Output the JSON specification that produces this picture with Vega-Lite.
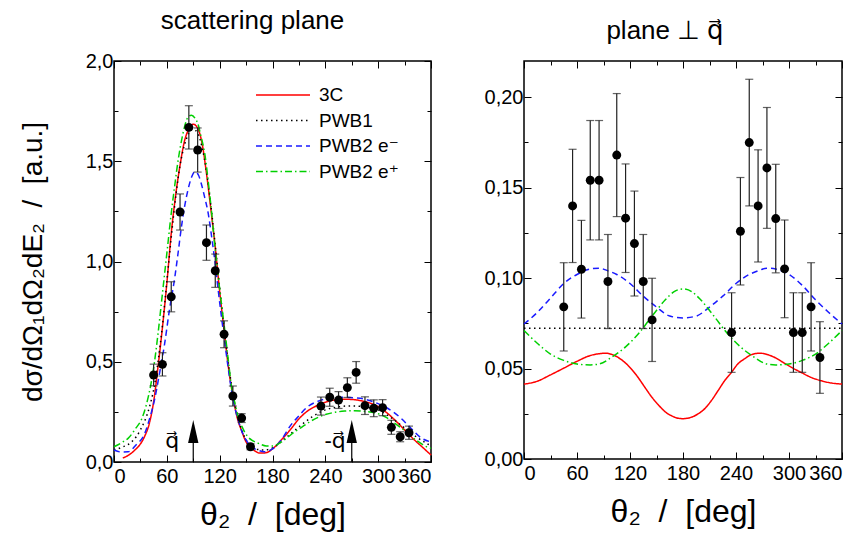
{
  "$schema": "https://vega.github.io/schema/vega-lite/v6.json",
  "background": "white",
  "padding": {"left": 18, "top": 7, "right": 5, "bottom": 5},
  "bounds": "flush",
  "spacing": 93,
  "config": {
    "font": "Liberation Sans, DejaVu Sans",
    "view": {"stroke": "black", "strokeWidth": 1.5},
    "axis": {
      "domain": false,
      "grid": false,
      "labelFont": "Liberation Sans, DejaVu Sans",
      "labelFontSize": 20,
      "labelColor": "black",
      "titleFont": "Liberation Sans, DejaVu Sans",
      "titleFontSize": 30,
      "titleFontWeight": "normal",
      "titleColor": "black",
      "tickColor": "black",
      "tickWidth": 1
    }
  },
  "datasets": {
    "curvesL": [
      {"model":"3C","theta":10,"v":0.02},{"model":"3C","theta":15,"v":0.03},{"model":"3C","theta":20,"v":0.045},{"model":"3C","theta":25,"v":0.065},{"model":"3C","theta":30,"v":0.09},{"model":"3C","theta":35,"v":0.13},{"model":"3C","theta":40,"v":0.19},{"model":"3C","theta":45,"v":0.3},{"model":"3C","theta":50,"v":0.475},{"model":"3C","theta":55,"v":0.67},{"model":"3C","theta":60,"v":0.89},{"model":"3C","theta":65,"v":1.14},{"model":"3C","theta":70,"v":1.33},{"model":"3C","theta":75,"v":1.48},{"model":"3C","theta":80,"v":1.6},{"model":"3C","theta":85,"v":1.66},{"model":"3C","theta":90,"v":1.685},{"model":"3C","theta":95,"v":1.665},{"model":"3C","theta":100,"v":1.59},{"model":"3C","theta":105,"v":1.44},{"model":"3C","theta":110,"v":1.26},{"model":"3C","theta":115,"v":1.07},{"model":"3C","theta":120,"v":0.85},{"model":"3C","theta":125,"v":0.66},{"model":"3C","theta":130,"v":0.47},{"model":"3C","theta":135,"v":0.33},{"model":"3C","theta":140,"v":0.22},{"model":"3C","theta":145,"v":0.155},{"model":"3C","theta":150,"v":0.1},{"model":"3C","theta":155,"v":0.075},{"model":"3C","theta":160,"v":0.055},{"model":"3C","theta":165,"v":0.045},{"model":"3C","theta":170,"v":0.045},{"model":"3C","theta":175,"v":0.05},{"model":"3C","theta":180,"v":0.065},{"model":"3C","theta":190,"v":0.11},{"model":"3C","theta":200,"v":0.16},{"model":"3C","theta":210,"v":0.215},{"model":"3C","theta":220,"v":0.255},{"model":"3C","theta":230,"v":0.28},{"model":"3C","theta":240,"v":0.298},{"model":"3C","theta":250,"v":0.309},{"model":"3C","theta":260,"v":0.313},{"model":"3C","theta":270,"v":0.312},{"model":"3C","theta":280,"v":0.306},{"model":"3C","theta":290,"v":0.295},{"model":"3C","theta":300,"v":0.276},{"model":"3C","theta":310,"v":0.245},{"model":"3C","theta":320,"v":0.205},{"model":"3C","theta":330,"v":0.16},{"model":"3C","theta":340,"v":0.115},{"model":"3C","theta":350,"v":0.075},{"model":"3C","theta":360,"v":0.035},
      {"model":"PWB1","theta":0,"v":0.06},{"model":"PWB1","theta":10,"v":0.075},{"model":"PWB1","theta":20,"v":0.1},{"model":"PWB1","theta":30,"v":0.16},{"model":"PWB1","theta":40,"v":0.27},{"model":"PWB1","theta":45,"v":0.36},{"model":"PWB1","theta":50,"v":0.5},{"model":"PWB1","theta":55,"v":0.68},{"model":"PWB1","theta":60,"v":0.9},{"model":"PWB1","theta":65,"v":1.12},{"model":"PWB1","theta":70,"v":1.32},{"model":"PWB1","theta":75,"v":1.48},{"model":"PWB1","theta":80,"v":1.58},{"model":"PWB1","theta":85,"v":1.64},{"model":"PWB1","theta":90,"v":1.66},{"model":"PWB1","theta":95,"v":1.64},{"model":"PWB1","theta":100,"v":1.57},{"model":"PWB1","theta":105,"v":1.45},{"model":"PWB1","theta":110,"v":1.28},{"model":"PWB1","theta":115,"v":1.08},{"model":"PWB1","theta":120,"v":0.87},{"model":"PWB1","theta":125,"v":0.67},{"model":"PWB1","theta":130,"v":0.49},{"model":"PWB1","theta":135,"v":0.34},{"model":"PWB1","theta":140,"v":0.23},{"model":"PWB1","theta":145,"v":0.16},{"model":"PWB1","theta":150,"v":0.11},{"model":"PWB1","theta":155,"v":0.08},{"model":"PWB1","theta":160,"v":0.065},{"model":"PWB1","theta":170,"v":0.06},{"model":"PWB1","theta":180,"v":0.07},{"model":"PWB1","theta":195,"v":0.12},{"model":"PWB1","theta":210,"v":0.175},{"model":"PWB1","theta":225,"v":0.225},{"model":"PWB1","theta":240,"v":0.26},{"model":"PWB1","theta":255,"v":0.275},{"model":"PWB1","theta":270,"v":0.28},{"model":"PWB1","theta":285,"v":0.275},{"model":"PWB1","theta":300,"v":0.26},{"model":"PWB1","theta":315,"v":0.22},{"model":"PWB1","theta":330,"v":0.17},{"model":"PWB1","theta":345,"v":0.12},{"model":"PWB1","theta":360,"v":0.08},
      {"model":"PWB2 e⁻","theta":0,"v":0.06},{"model":"PWB2 e⁻","theta":8,"v":0.05},{"model":"PWB2 e⁻","theta":16,"v":0.051},{"model":"PWB2 e⁻","theta":25,"v":0.085},{"model":"PWB2 e⁻","theta":35,"v":0.143},{"model":"PWB2 e⁻","theta":40,"v":0.21},{"model":"PWB2 e⁻","theta":46,"v":0.31},{"model":"PWB2 e⁻","theta":52,"v":0.45},{"model":"PWB2 e⁻","theta":57.5,"v":0.59},{"model":"PWB2 e⁻","theta":63,"v":0.76},{"model":"PWB2 e⁻","theta":69,"v":0.92},{"model":"PWB2 e⁻","theta":73,"v":1.05},{"model":"PWB2 e⁻","theta":76.5,"v":1.17},{"model":"PWB2 e⁻","theta":80,"v":1.27},{"model":"PWB2 e⁻","theta":84,"v":1.357},{"model":"PWB2 e⁻","theta":88,"v":1.42},{"model":"PWB2 e⁻","theta":92,"v":1.448},{"model":"PWB2 e⁻","theta":96,"v":1.43},{"model":"PWB2 e⁻","theta":99,"v":1.39},{"model":"PWB2 e⁻","theta":103,"v":1.32},{"model":"PWB2 e⁻","theta":107,"v":1.24},{"model":"PWB2 e⁻","theta":111,"v":1.12},{"model":"PWB2 e⁻","theta":114.4,"v":1.007},{"model":"PWB2 e⁻","theta":118,"v":0.87},{"model":"PWB2 e⁻","theta":122,"v":0.725},{"model":"PWB2 e⁻","theta":126,"v":0.59},{"model":"PWB2 e⁻","theta":129.5,"v":0.475},{"model":"PWB2 e⁻","theta":133,"v":0.37},{"model":"PWB2 e⁻","theta":137,"v":0.276},{"model":"PWB2 e⁻","theta":141,"v":0.21},{"model":"PWB2 e⁻","theta":144.6,"v":0.16},{"model":"PWB2 e⁻","theta":150,"v":0.11},{"model":"PWB2 e⁻","theta":156,"v":0.076},{"model":"PWB2 e⁻","theta":163,"v":0.06},{"model":"PWB2 e⁻","theta":171,"v":0.051},{"model":"PWB2 e⁻","theta":180,"v":0.065},{"model":"PWB2 e⁻","theta":190,"v":0.11},{"model":"PWB2 e⁻","theta":201,"v":0.185},{"model":"PWB2 e⁻","theta":210,"v":0.23},{"model":"PWB2 e⁻","theta":220,"v":0.276},{"model":"PWB2 e⁻","theta":230,"v":0.3},{"model":"PWB2 e⁻","theta":239,"v":0.313},{"model":"PWB2 e⁻","theta":250,"v":0.32},{"model":"PWB2 e⁻","theta":262,"v":0.323},{"model":"PWB2 e⁻","theta":273,"v":0.32},{"model":"PWB2 e⁻","theta":285,"v":0.313},{"model":"PWB2 e⁻","theta":296,"v":0.298},{"model":"PWB2 e⁻","theta":307.5,"v":0.276},{"model":"PWB2 e⁻","theta":317,"v":0.25},{"model":"PWB2 e⁻","theta":326,"v":0.218},{"model":"PWB2 e⁻","theta":338,"v":0.165},{"model":"PWB2 e⁻","theta":349,"v":0.12},{"model":"PWB2 e⁻","theta":360,"v":0.1},
      {"model":"PWB2 e⁺","theta":0,"v":0.076},{"model":"PWB2 e⁺","theta":10,"v":0.1},{"model":"PWB2 e⁺","theta":16,"v":0.118},{"model":"PWB2 e⁺","theta":25,"v":0.17},{"model":"PWB2 e⁺","theta":31,"v":0.21},{"model":"PWB2 e⁺","theta":37,"v":0.29},{"model":"PWB2 e⁺","theta":42,"v":0.39},{"model":"PWB2 e⁺","theta":46,"v":0.5},{"model":"PWB2 e⁺","theta":50,"v":0.64},{"model":"PWB2 e⁺","theta":54,"v":0.8},{"model":"PWB2 e⁺","theta":57.5,"v":0.94},{"model":"PWB2 e⁺","theta":61,"v":1.08},{"model":"PWB2 e⁺","theta":65,"v":1.24},{"model":"PWB2 e⁺","theta":69,"v":1.38},{"model":"PWB2 e⁺","theta":73,"v":1.51},{"model":"PWB2 e⁺","theta":77,"v":1.61},{"model":"PWB2 e⁺","theta":80,"v":1.67},{"model":"PWB2 e⁺","theta":84,"v":1.72},{"model":"PWB2 e⁺","theta":88,"v":1.73},{"model":"PWB2 e⁺","theta":92,"v":1.715},{"model":"PWB2 e⁺","theta":95,"v":1.69},{"model":"PWB2 e⁺","theta":99,"v":1.62},{"model":"PWB2 e⁺","theta":103,"v":1.54},{"model":"PWB2 e⁺","theta":107,"v":1.4},{"model":"PWB2 e⁺","theta":110.5,"v":1.26},{"model":"PWB2 e⁺","theta":114,"v":1.1},{"model":"PWB2 e⁺","theta":118,"v":0.94},{"model":"PWB2 e⁺","theta":122,"v":0.79},{"model":"PWB2 e⁺","theta":126,"v":0.65},{"model":"PWB2 e⁺","theta":130,"v":0.5},{"model":"PWB2 e⁺","theta":133,"v":0.39},{"model":"PWB2 e⁺","theta":137,"v":0.3},{"model":"PWB2 e⁺","theta":141,"v":0.226},{"model":"PWB2 e⁺","theta":146,"v":0.17},{"model":"PWB2 e⁺","theta":152,"v":0.126},{"model":"PWB2 e⁺","theta":158,"v":0.105},{"model":"PWB2 e⁺","theta":164,"v":0.093},{"model":"PWB2 e⁺","theta":173,"v":0.08},{"model":"PWB2 e⁺","theta":180,"v":0.08},{"model":"PWB2 e⁺","theta":190,"v":0.1},{"model":"PWB2 e⁺","theta":198,"v":0.126},{"model":"PWB2 e⁺","theta":205,"v":0.15},{"model":"PWB2 e⁺","theta":213,"v":0.173},{"model":"PWB2 e⁺","theta":222,"v":0.2},{"model":"PWB2 e⁺","theta":232,"v":0.223},{"model":"PWB2 e⁺","theta":241,"v":0.238},{"model":"PWB2 e⁺","theta":251,"v":0.248},{"model":"PWB2 e⁺","theta":262,"v":0.254},{"model":"PWB2 e⁺","theta":273,"v":0.256},{"model":"PWB2 e⁺","theta":285,"v":0.252},{"model":"PWB2 e⁺","theta":296,"v":0.246},{"model":"PWB2 e⁺","theta":308,"v":0.225},{"model":"PWB2 e⁺","theta":319,"v":0.193},{"model":"PWB2 e⁺","theta":329,"v":0.16},{"model":"PWB2 e⁺","theta":338,"v":0.126},{"model":"PWB2 e⁺","theta":346,"v":0.1},{"model":"PWB2 e⁺","theta":353,"v":0.08},{"model":"PWB2 e⁺","theta":360,"v":0.068}
    ],
    "curvesR": [
      {"model":"3C","theta":0,"v":0.0414},{"model":"3C","theta":15,"v":0.043},{"model":"3C","theta":30,"v":0.0465},{"model":"3C","theta":45,"v":0.0502},{"model":"3C","theta":60,"v":0.054},{"model":"3C","theta":75,"v":0.0572},{"model":"3C","theta":85,"v":0.0582},{"model":"3C","theta":93,"v":0.0585},{"model":"3C","theta":100,"v":0.0577},{"model":"3C","theta":107,"v":0.056},{"model":"3C","theta":115,"v":0.053},{"model":"3C","theta":122,"v":0.0495},{"model":"3C","theta":130,"v":0.0445},{"model":"3C","theta":137,"v":0.0395},{"model":"3C","theta":145,"v":0.034},{"model":"3C","theta":152,"v":0.03},{"model":"3C","theta":160,"v":0.026},{"model":"3C","theta":167,"v":0.0239},{"model":"3C","theta":175,"v":0.0225},{"model":"3C","theta":180,"v":0.0223},{"model":"3C","theta":190,"v":0.0232},{"model":"3C","theta":197,"v":0.0249},{"model":"3C","theta":205,"v":0.028},{"model":"3C","theta":212,"v":0.0322},{"model":"3C","theta":220,"v":0.038},{"model":"3C","theta":227,"v":0.0432},{"model":"3C","theta":235,"v":0.048},{"model":"3C","theta":242,"v":0.0525},{"model":"3C","theta":250,"v":0.0555},{"model":"3C","theta":257,"v":0.0576},{"model":"3C","theta":267,"v":0.0585},{"model":"3C","theta":275,"v":0.0578},{"model":"3C","theta":284,"v":0.0561},{"model":"3C","theta":293,"v":0.0535},{"model":"3C","theta":303,"v":0.0506},{"model":"3C","theta":314,"v":0.0478},{"model":"3C","theta":325,"v":0.0451},{"model":"3C","theta":337,"v":0.0432},{"model":"3C","theta":348,"v":0.042},{"model":"3C","theta":360,"v":0.0414},
      {"model":"PWB1","theta":0,"v":0.0723},{"model":"PWB1","theta":360,"v":0.0723},
      {"model":"PWB2 e⁻","theta":0,"v":0.0746},{"model":"PWB2 e⁻","theta":15,"v":0.081},{"model":"PWB2 e⁻","theta":30,"v":0.089},{"model":"PWB2 e⁻","theta":45,"v":0.097},{"model":"PWB2 e⁻","theta":60,"v":0.102},{"model":"PWB2 e⁻","theta":75,"v":0.105},{"model":"PWB2 e⁻","theta":85,"v":0.1055},{"model":"PWB2 e⁻","theta":95,"v":0.104},{"model":"PWB2 e⁻","theta":105,"v":0.102},{"model":"PWB2 e⁻","theta":120,"v":0.097},{"model":"PWB2 e⁻","theta":135,"v":0.09},{"model":"PWB2 e⁻","theta":150,"v":0.084},{"model":"PWB2 e⁻","theta":165,"v":0.079},{"model":"PWB2 e⁻","theta":180,"v":0.078},{"model":"PWB2 e⁻","theta":195,"v":0.079},{"model":"PWB2 e⁻","theta":210,"v":0.084},{"model":"PWB2 e⁻","theta":225,"v":0.09},{"model":"PWB2 e⁻","theta":240,"v":0.097},{"model":"PWB2 e⁻","theta":255,"v":0.102},{"model":"PWB2 e⁻","theta":265,"v":0.104},{"model":"PWB2 e⁻","theta":275,"v":0.1055},{"model":"PWB2 e⁻","theta":285,"v":0.105},{"model":"PWB2 e⁻","theta":300,"v":0.102},{"model":"PWB2 e⁻","theta":315,"v":0.096},{"model":"PWB2 e⁻","theta":330,"v":0.088},{"model":"PWB2 e⁻","theta":345,"v":0.081},{"model":"PWB2 e⁻","theta":360,"v":0.0746},
      {"model":"PWB2 e⁺","theta":0,"v":0.071},{"model":"PWB2 e⁺","theta":15,"v":0.064},{"model":"PWB2 e⁺","theta":30,"v":0.058},{"model":"PWB2 e⁺","theta":45,"v":0.0545},{"model":"PWB2 e⁺","theta":60,"v":0.0525},{"model":"PWB2 e⁺","theta":75,"v":0.052},{"model":"PWB2 e⁺","theta":85,"v":0.0525},{"model":"PWB2 e⁺","theta":100,"v":0.0565},{"model":"PWB2 e⁺","theta":115,"v":0.062},{"model":"PWB2 e⁺","theta":130,"v":0.0695},{"model":"PWB2 e⁺","theta":145,"v":0.079},{"model":"PWB2 e⁺","theta":160,"v":0.088},{"model":"PWB2 e⁺","theta":170,"v":0.0925},{"model":"PWB2 e⁺","theta":180,"v":0.094},{"model":"PWB2 e⁺","theta":190,"v":0.0925},{"model":"PWB2 e⁺","theta":200,"v":0.088},{"model":"PWB2 e⁺","theta":215,"v":0.079},{"model":"PWB2 e⁺","theta":230,"v":0.0695},{"model":"PWB2 e⁺","theta":245,"v":0.062},{"model":"PWB2 e⁺","theta":260,"v":0.0565},{"model":"PWB2 e⁺","theta":275,"v":0.0525},{"model":"PWB2 e⁺","theta":285,"v":0.052},{"model":"PWB2 e⁺","theta":300,"v":0.0525},{"model":"PWB2 e⁺","theta":315,"v":0.0545},{"model":"PWB2 e⁺","theta":330,"v":0.058},{"model":"PWB2 e⁺","theta":345,"v":0.064},{"model":"PWB2 e⁺","theta":360,"v":0.071}
    ],
    "ptsL": [
      {"theta":45,"v":0.434,"err":0.054},{"theta":55,"v":0.487,"err":0.058},{"theta":65,"v":0.824,"err":0.075},{"theta":75,"v":1.247,"err":0.09},{"theta":85,"v":1.669,"err":0.108},{"theta":95,"v":1.556,"err":0.11},{"theta":105,"v":1.094,"err":0.088},{"theta":115,"v":0.954,"err":0.083},{"theta":125,"v":0.637,"err":0.067},{"theta":135,"v":0.329,"err":0.05},{"theta":145,"v":0.219,"err":0.022},{"theta":155,"v":0.076,"err":0.015},
      {"theta":235,"v":0.279,"err":0.045},{"theta":245,"v":0.323,"err":0.045},{"theta":255,"v":0.309,"err":0.042},{"theta":265,"v":0.371,"err":0.049},{"theta":275,"v":0.447,"err":0.054},{"theta":285,"v":0.281,"err":0.044},{"theta":295,"v":0.268,"err":0.042},{"theta":305,"v":0.271,"err":0.04},{"theta":315,"v":0.173,"err":0.035},{"theta":325,"v":0.126,"err":0.025},{"theta":335,"v":0.146,"err":0.033}
    ],
    "ptsR": [
      {"theta":45,"v":0.0841,"err":0.0244},{"theta":55,"v":0.1399,"err":0.0313},{"theta":65,"v":0.1049,"err":0.027},{"theta":75,"v":0.1541,"err":0.033},{"theta":85,"v":0.1541,"err":0.033},{"theta":95,"v":0.0981,"err":0.026},{"theta":105,"v":0.168,"err":0.034},{"theta":115,"v":0.1331,"err":0.03},{"theta":125,"v":0.1191,"err":0.029},{"theta":135,"v":0.0981,"err":0.026},{"theta":145,"v":0.0769,"err":0.023},
      {"theta":235,"v":0.0699,"err":0.022},{"theta":245,"v":0.1259,"err":0.0297},{"theta":255,"v":0.1749,"err":0.035},{"theta":265,"v":0.1399,"err":0.031},{"theta":275,"v":0.1609,"err":0.0334},{"theta":285,"v":0.1329,"err":0.03},{"theta":295,"v":0.1051,"err":0.027},{"theta":305,"v":0.0699,"err":0.022},{"theta":315,"v":0.0699,"err":0.022},{"theta":325,"v":0.0841,"err":0.0244},{"theta":335,"v":0.0561,"err":0.0198}
    ],
    "arrows": [
      {"theta":90,"base":0,"top":0.11,"head":0.152,"label":"q⃗","labelTheta":66,"labelV":0.105},
      {"theta":270,"base":0,"top":0.11,"head":0.152,"label":"-q⃗","labelTheta":251,"labelV":0.105}
    ]
  },
  "hconcat": [
    {
      "width": 317,
      "height": 401,
      "title": {"text": "scattering plane", "fontSize": 26, "fontWeight": "normal", "font": "Liberation Sans, DejaVu Sans", "anchor": "middle", "baseline": "alphabetic", "offset": -4, "dx": -20, "color": "black"},
      "layer": [
        {
          "data": {"name": "curvesL"},
          "mark": {"type": "line", "strokeWidth": 1.5, "interpolate": "monotone"},
          "encoding": {
            "x": {"field": "theta", "type": "quantitative", "scale": {"domain": [0, 360], "nice": false},
              "axis": {"orient": "bottom", "title": "θ₂\u00a0\u00a0/\u00a0\u00a0[deg]", "titleFontSize": 32, "values": [0,30,60,90,120,150,180,210,240,270,300,330,360],
                "labelExpr": "datum.value % 60 == 0 ? datum.label : ''",
                "tickSize": {"condition": {"test": "datum.value % 60 == 0", "value": -7}, "value": -4},
                "labelPadding": 11, "titlePadding": 13}},
            "y": {"field": "v", "type": "quantitative", "scale": {"domain": [0, 2], "nice": false},
              "axis": {"orient": "left", "title": "dσ/dΩ₁dΩ₂dE₂\u00a0\u00a0/\u00a0\u00a0[a.u.]", "titleFontSize": 28, "values": [0,0.25,0.5,0.75,1,1.25,1.5,1.75,2],
                "labelExpr": "abs(datum.value*2 - round(datum.value*2)) < 0.001 ? replace(format(datum.value, '.1f'), '.', ',') : ''",
                "tickSize": {"condition": {"test": "abs(datum.value*2 - round(datum.value*2)) < 0.001", "value": -7}, "value": -4},
                "labelPadding": 8, "titlePadding": 38}},
            "color": {"field": "model", "type": "nominal",
              "scale": {"domain": ["3C", "PWB1", "PWB2 e⁻", "PWB2 e⁺"], "range": ["#ff0000", "#000000", "#1a1aff", "#00d000"]},
              "legend": {"orient": "none", "legendX": 141, "legendY": 24, "title": null, "labelFontSize": 19, "labelFont": "Liberation Sans, DejaVu Sans", "labelColor": "black", "symbolType": "M-1,0L5,0", "symbolSize": 324, "symbolStrokeWidth": 1.5, "labelOffset": 44, "rowPadding": 5.5}},
            "strokeDash": {"field": "model", "type": "nominal",
              "scale": {"domain": ["3C", "PWB1", "PWB2 e⁻", "PWB2 e⁺"], "range": [[1, 0], [1.5, 3.5], [6, 4], [7, 3, 1.5, 3]]},
              "legend": {"orient": "none", "legendX": 141, "legendY": 24, "title": null, "labelFontSize": 19, "labelFont": "Liberation Sans, DejaVu Sans", "labelColor": "black", "symbolType": "M-1,0L5,0", "symbolSize": 324, "symbolStrokeWidth": 1.5, "labelOffset": 44, "rowPadding": 5.5}}
          }
        },
        {
          "data": {"name": "ptsL"},
          "mark": {"type": "errorbar", "ticks": {"size": 8, "thickness": 1.2}, "color": "#222222", "thickness": 1.2},
          "encoding": {
            "x": {"field": "theta", "type": "quantitative", "scale": {"domain": [0, 360], "nice": false},
              "axis": {"orient": "top", "title": null, "labels": false, "values": [0,30,60,90,120,150,180,210,240,270,300,330,360],
                "tickSize": {"condition": {"test": "datum.value % 60 == 0", "value": -7}, "value": -4}}},
            "y": {"field": "v", "type": "quantitative", "scale": {"domain": [0, 2], "nice": false},
              "axis": {"orient": "right", "title": null, "labels": false, "values": [0,0.25,0.5,0.75,1,1.25,1.5,1.75,2],
                "tickSize": {"condition": {"test": "abs(datum.value*2 - round(datum.value*2)) < 0.001", "value": -7}, "value": -4}}},
            "yError": {"field": "err"}
          }
        },
        {
          "data": {"name": "ptsL"},
          "mark": {"type": "circle", "size": 80, "color": "black", "opacity": 1},
          "encoding": {
            "x": {"field": "theta", "type": "quantitative", "scale": {"domain": [0, 360], "nice": false}, "axis": null},
            "y": {"field": "v", "type": "quantitative", "scale": {"domain": [0, 2], "nice": false}, "axis": null}
          }
        },
        {
          "data": {"name": "arrows"},
          "mark": {"type": "rule", "color": "black", "strokeWidth": 1.2},
          "encoding": {
            "x": {"field": "theta", "type": "quantitative", "scale": {"domain": [0, 360], "nice": false}, "axis": null},
            "y": {"field": "base", "type": "quantitative", "scale": {"domain": [0, 2], "nice": false}, "axis": null},
            "y2": {"field": "top"}
          }
        },
        {
          "data": {"name": "arrows"},
          "mark": {"type": "point", "shape": "M0,-1L0.45,1L-0.45,1Z", "size": 530, "filled": true, "color": "black", "opacity": 1},
          "encoding": {
            "x": {"field": "theta", "type": "quantitative", "scale": {"domain": [0, 360], "nice": false}, "axis": null},
            "y": {"field": "head", "type": "quantitative", "scale": {"domain": [0, 2], "nice": false}, "axis": null}
          }
        },
        {
          "data": {"name": "arrows"},
          "mark": {"type": "text", "fontSize": 22, "font": "Liberation Sans, DejaVu Sans", "color": "black", "align": "center", "baseline": "middle"},
          "encoding": {
            "x": {"field": "labelTheta", "type": "quantitative", "scale": {"domain": [0, 360], "nice": false}, "axis": null},
            "y": {"field": "labelV", "type": "quantitative", "scale": {"domain": [0, 2], "nice": false}, "axis": null},
            "text": {"field": "label"}
          }
        }
      ],
      "resolve": {"axis": {"x": "independent", "y": "independent"}}
    },
    {
      "width": 318,
      "height": 398,
      "title": {"text": "plane ⊥ q⃗", "fontSize": 26, "fontWeight": "normal", "font": "Liberation Sans, DejaVu Sans", "anchor": "middle", "baseline": "alphabetic", "offset": -4, "dx": -18, "color": "black"},
      "layer": [
        {
          "data": {"name": "curvesR"},
          "mark": {"type": "line", "strokeWidth": 1.5, "interpolate": "monotone"},
          "encoding": {
            "x": {"field": "theta", "type": "quantitative", "scale": {"domain": [0, 360], "nice": false},
              "axis": {"orient": "bottom", "title": "θ₂\u00a0\u00a0/\u00a0\u00a0[deg]", "titleFontSize": 32, "values": [0,30,60,90,120,150,180,210,240,270,300,330,360],
                "labelExpr": "datum.value % 60 == 0 ? datum.label : ''",
                "tickSize": {"condition": {"test": "datum.value % 60 == 0", "value": -7}, "value": -4},
                "labelPadding": 11, "titlePadding": 13}},
            "y": {"field": "v", "type": "quantitative", "scale": {"domain": [0, 0.22], "nice": false},
              "axis": {"orient": "left", "title": null, "values": [0,0.025,0.05,0.075,0.1,0.125,0.15,0.175,0.2],
                "labelExpr": "abs(datum.value*20 - round(datum.value*20)) < 0.001 ? replace(format(datum.value, '.2f'), '.', ',') : ''",
                "tickSize": {"condition": {"test": "abs(datum.value*20 - round(datum.value*20)) < 0.001", "value": -7}, "value": -4},
                "labelPadding": 8}},
            "color": {"field": "model", "type": "nominal",
              "scale": {"domain": ["3C", "PWB1", "PWB2 e⁻", "PWB2 e⁺"], "range": ["#ff0000", "#000000", "#1a1aff", "#00d000"]}, "legend": null},
            "strokeDash": {"field": "model", "type": "nominal",
              "scale": {"domain": ["3C", "PWB1", "PWB2 e⁻", "PWB2 e⁺"], "range": [[1, 0], [1.5, 3.5], [6, 4], [7, 3, 1.5, 3]]}, "legend": null}
          }
        },
        {
          "data": {"name": "ptsR"},
          "mark": {"type": "errorbar", "ticks": {"size": 8, "thickness": 1.2}, "color": "#222222", "thickness": 1.2},
          "encoding": {
            "x": {"field": "theta", "type": "quantitative", "scale": {"domain": [0, 360], "nice": false},
              "axis": {"orient": "top", "title": null, "labels": false, "values": [0,30,60,90,120,150,180,210,240,270,300,330,360],
                "tickSize": {"condition": {"test": "datum.value % 60 == 0", "value": -7}, "value": -4}}},
            "y": {"field": "v", "type": "quantitative", "scale": {"domain": [0, 0.22], "nice": false},
              "axis": {"orient": "right", "title": null, "labels": false, "values": [0,0.025,0.05,0.075,0.1,0.125,0.15,0.175,0.2],
                "tickSize": {"condition": {"test": "abs(datum.value*20 - round(datum.value*20)) < 0.001", "value": -7}, "value": -4}}},
            "yError": {"field": "err"}
          }
        },
        {
          "data": {"name": "ptsR"},
          "mark": {"type": "circle", "size": 80, "color": "black", "opacity": 1},
          "encoding": {
            "x": {"field": "theta", "type": "quantitative", "scale": {"domain": [0, 360], "nice": false}, "axis": null},
            "y": {"field": "v", "type": "quantitative", "scale": {"domain": [0, 0.22], "nice": false}, "axis": null}
          }
        }
      ],
      "resolve": {"axis": {"x": "independent", "y": "independent"}, "scale": {"color": "independent", "strokeDash": "independent"}}
    }
  ],
  "resolve": {"scale": {"color": "independent", "strokeDash": "independent"}, "legend": {"color": "independent", "strokeDash": "independent"}}
}
